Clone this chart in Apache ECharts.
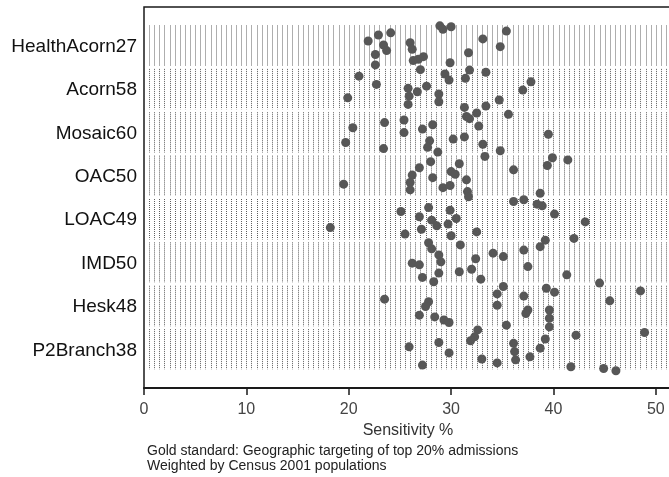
<!DOCTYPE html>
<html>
<head>
<meta charset="utf-8">
<script src="https://cdn.jsdelivr.net/npm/echarts@6/dist/echarts.min.js"></script>
<style>
  html, body { margin: 0; padding: 0; background: #fff; }
  #chart { width: 669px; height: 477px; }
</style>
</head>
<body>
<div id="chart"></div>
<script>
  // categories, top to bottom
  var categories = ['HealthAcorn27', 'Acorn58', 'Mosaic60', 'OAC50', 'LOAC49', 'IMD50', 'Hesk48', 'P2Branch38']

  // [sensitivity %, vertical jitter inside the row (0 = top, 1 = bottom)]
  var healthAcorn27 = [[21.9, 0.37], [22.9, 0.23], [24.1, 0.18], [23.4, 0.46], [23.7, 0.59], [22.6, 0.68], [22.6, 0.92],
    [28.9, 0.02], [29.2, 0.10], [30.0, 0.04], [26.0, 0.41], [26.2, 0.56], [26.3, 0.82], [26.8, 0.79], [27.3, 0.73],
    [29.9, 0.87], [31.7, 0.64], [33.1, 0.32], [34.8, 0.50], [35.4, 0.14]]
  var acorn58 = [[21.0, 0.18], [22.7, 0.37], [19.9, 0.68], [27.0, 0.03], [31.8, 0.04], [33.4, 0.09], [29.4, 0.13],
    [29.8, 0.27], [31.4, 0.23], [25.8, 0.46], [25.9, 0.64], [25.8, 0.83], [26.7, 0.54], [27.6, 0.41], [28.8, 0.59],
    [28.8, 0.77], [37.0, 0.50], [37.8, 0.31], [34.7, 0.73], [33.4, 0.87], [31.3, 0.90]]
  var mosaic60 = [[32.5, 0.03], [23.5, 0.25], [20.4, 0.37], [25.4, 0.19], [25.4, 0.48], [19.7, 0.71], [23.4, 0.85],
    [31.5, 0.11], [31.8, 0.16], [32.7, 0.33], [35.6, 0.06], [27.2, 0.40], [28.2, 0.30], [30.2, 0.63], [31.3, 0.58],
    [27.9, 0.67], [27.7, 0.82], [28.7, 0.93], [33.1, 0.75], [34.8, 0.90], [39.5, 0.52]]
  var oac50 = [[33.3, 0.03], [19.5, 0.67], [28.0, 0.15], [26.9, 0.29], [30.8, 0.20], [30.0, 0.38], [30.4, 0.44],
    [36.1, 0.34], [39.9, 0.06], [39.4, 0.24], [41.4, 0.11], [26.2, 0.46], [26.0, 0.63], [26.0, 0.80], [28.2, 0.52],
    [29.2, 0.75], [29.9, 0.70], [31.5, 0.57], [31.6, 0.84], [31.7, 0.96], [38.7, 0.88]]
  var loac49 = [[18.2, 0.67], [25.1, 0.30], [25.5, 0.82], [27.8, 0.21], [26.9, 0.42], [28.1, 0.50], [28.6, 0.63],
    [29.9, 0.27], [30.5, 0.46], [29.7, 0.59], [27.1, 0.71], [30.0, 0.86], [32.5, 0.77], [36.1, 0.07], [37.1, 0.03],
    [38.4, 0.13], [38.9, 0.17], [40.1, 0.36], [43.1, 0.54], [42.0, 0.92], [39.2, 0.96]]
  var imd50 = [[27.8, 0.02], [28.1, 0.16], [30.9, 0.07], [38.7, 0.11], [37.1, 0.19], [28.8, 0.30], [29.0, 0.46],
    [26.2, 0.49], [26.9, 0.53], [34.1, 0.26], [35.1, 0.34], [32.4, 0.39], [37.5, 0.57], [30.8, 0.69], [32.0, 0.63],
    [28.8, 0.72], [27.2, 0.82], [28.3, 0.92], [32.9, 0.86], [41.3, 0.76], [44.5, 0.95]]
  var hesk48 = [[48.5, 0.13], [45.5, 0.36], [39.3, 0.07], [40.1, 0.16], [35.1, 0.03], [34.5, 0.20], [34.5, 0.46],
    [37.1, 0.25], [27.8, 0.38], [27.5, 0.49], [26.9, 0.69], [28.4, 0.73], [29.3, 0.80], [29.8, 0.86], [35.4, 0.92],
    [37.5, 0.57], [37.3, 0.65], [39.6, 0.57], [39.6, 0.76], [39.6, 0.96], [23.5, 0.32]]
  var p2Branch38 = [[32.6, 0.03], [32.3, 0.19], [31.9, 0.28], [42.2, 0.15], [48.9, 0.09], [39.2, 0.24], [25.9, 0.42],
    [28.8, 0.32], [29.8, 0.56], [36.1, 0.34], [36.2, 0.53], [36.3, 0.72], [38.7, 0.45], [37.7, 0.65], [33.0, 0.70],
    [34.5, 0.79], [27.2, 0.84], [41.7, 0.88], [44.9, 0.92], [46.1, 0.97]]

  var groups = [healthAcorn27, acorn58, mosaic60, oac50, loac49, imd50, hesk48, p2Branch38]

  var xMax = 52.75
  var gridStep = 0.5   // spacing of the dotted guide lines
  var font = 'Liberation Sans, Arial, Helvetica, sans-serif'

  var points = []
  groups.forEach(function (g, i) {
    g.forEach(function (p) { points.push([p[0], i + p[1]]) })
  })

  var chart = echarts.init(document.getElementById('chart'))
  chart.setOption({
    animation: false,
    textStyle: { fontFamily: font },
    grid: [
      // the frame runs off the right edge of the picture, as in the original
      { left: 144, top: 7, width: 540, height: 381, outerBoundsMode: 'none', show: true, borderColor: '#1a1a1a', borderWidth: 1.5 },
      { left: 144, top: 25, width: 540, height: 347, outerBoundsMode: 'none' }
    ],
    xAxis: [{
      gridIndex: 0,
      type: 'value',
      min: 0,
      max: xMax,
      interval: 10,
      axisLine: { show: true, lineStyle: { color: '#1a1a1a', width: 2 } },
      axisTick: { show: true, length: 7, lineStyle: { color: '#1a1a1a', width: 1.5 } },
      axisLabel: { fontSize: 16, color: '#444', margin: 14, showMaxLabel: false, fontFamily: font },
      splitLine: { show: false },
      name: 'Sensitivity %',
      nameLocation: 'middle',
      nameGap: 34,
      nameTextStyle: { fontSize: 16, color: '#333', fontFamily: font, padding: [0, 12, 0, 0] }
    }, {
      gridIndex: 1, type: 'value', min: 0, max: xMax, show: false
    }],
    yAxis: [{
      gridIndex: 0, type: 'value', min: 0, max: 1, show: false
    }, {
      gridIndex: 1,
      type: 'category',
      data: categories,
      inverse: true,
      axisLine: { show: false },
      axisTick: { show: false },
      splitLine: { show: false },
      axisLabel: { fontSize: 19, color: '#111', margin: 7, fontFamily: font }
    }, {
      gridIndex: 1, type: 'value', min: 0, max: categories.length, inverse: true, show: false
    }],
    graphic: [
      { type: 'text', left: 147, top: 444, style: { text: 'Gold standard: Geographic targeting of top 20% admissions', fontSize: 14, fill: '#222', fontFamily: font } },
      { type: 'text', left: 147, top: 459, style: { text: 'Weighted by Census 2001 populations', fontSize: 14, fill: '#222', fontFamily: font } }
    ],
    series: [{
      // dotted vertical guide lines, one block per row
      type: 'custom',
      xAxisIndex: 1,
      yAxisIndex: 2,
      silent: true,
      z: 1,
      data: categories.map(function (c, i) { return [i] }),
      renderItem: function (params, api) {
        var band = api.value(0)
        var top = api.coord([0, band])[1] + 0.5
        var bottom = api.coord([0, band + 1])[1] - 2.5
        var children = []
        for (var v = gridStep; v <= xMax; v += gridStep) {
          var x = Math.round(api.coord([v, band])[0]) + 0.5
          children.push({
            type: 'line',
            shape: { x1: x, y1: top, x2: x, y2: bottom },
            style: { stroke: '#5e5e5e', lineWidth: 1, lineDash: [1, 1] }
          })
        }
        return { type: 'group', children: children }
      }
    }, {
      type: 'scatter',
      xAxisIndex: 1,
      yAxisIndex: 2,
      z: 3,
      symbol: 'circle',
      symbolSize: 9,
      itemStyle: { color: '#575757', opacity: 1 },
      data: points
    }]
  })
</script>
</body>
</html>
